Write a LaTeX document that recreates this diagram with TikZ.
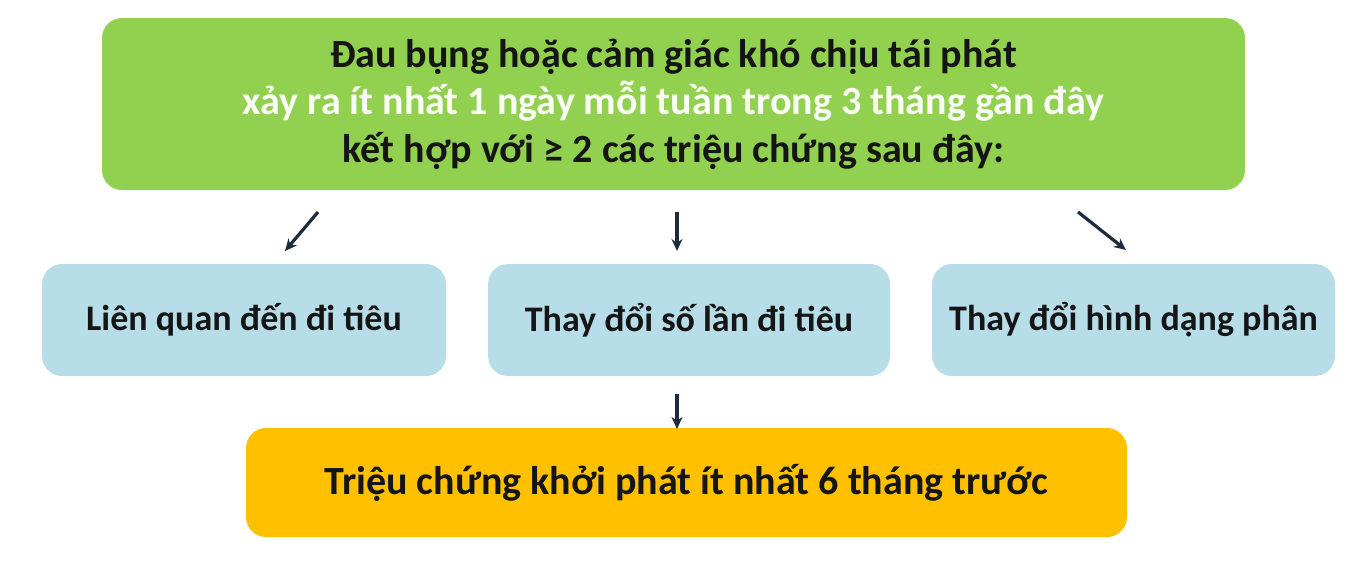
\documentclass[tikz,border=0pt]{standalone}
\usepackage{fontspec}
\setmainfont{Carlito}
\usetikzlibrary{arrows.meta}
\definecolor{grn}{HTML}{92D050}
\definecolor{blu}{HTML}{B7DEE8}
\definecolor{org}{HTML}{FFC000}
\definecolor{txt}{HTML}{151515}
\definecolor{arr}{HTML}{1E2B3C}
\tikzset{
  box/.style={rounded corners=20pt, inner sep=0pt, align=center, font=\bfseries\fontsize{40}{47.5}\selectfont, text=txt},
  small/.style={font=\bfseries\fontsize{36}{43}\selectfont},
  conn/.style={draw=arr, line width=3.2pt, -{Stealth[length=12pt,width=11pt]}}
}
\begin{document}
\begin{tikzpicture}[x=1pt,y=-1pt]
\useasboundingbox (0,0) rectangle (1366,587);
\node[box, fill=grn, minimum width=1143pt, minimum height=172pt] (top) at (673.5,104)
  {Đau bụng hoặc cảm giác khó chịu tái phát\\
   \textcolor{white!95!grn}{xảy ra ít nhất 1 ngày mỗi tuần trong 3 tháng gần đây}\\
   kết hợp với ≥ 2 các triệu chứng sau đây:};
\node[box, small, fill=blu, minimum width=404pt, minimum height=112pt] (b1) at (244,320) {Liên quan đến đi tiêu};
\node[box, small, fill=blu, minimum width=402pt, minimum height=112pt] (b2) at (689,320) {Thay đổi số lần đi tiêu};
\node[box, small, fill=blu, minimum width=403pt, minimum height=112pt] (b3) at (1133.5,320) {Thay đổi hình dạng phân};
\node[box, fill=org, minimum width=881pt, minimum height=109pt] (bot) at (686.5,482.5) {Triệu chứng khởi phát ít nhất 6 tháng trước};
\coordinate (a1s) at (318,212); \coordinate (a1e) at (285,251);
\coordinate (a2s) at (677,212); \coordinate (a2e) at (677,251);
\coordinate (a3s) at (1078,212); \coordinate (a3e) at (1126,250);
\coordinate (a4s) at (677,394); \coordinate (a4e) at (677,429);
\draw[conn] (a1s) -- (a1e);
\draw[conn] (a2s) -- (a2e);
\draw[conn] (a3s) -- (a3e);
\draw[conn] (a4s) -- (a4e);
\end{tikzpicture}
\end{document}
